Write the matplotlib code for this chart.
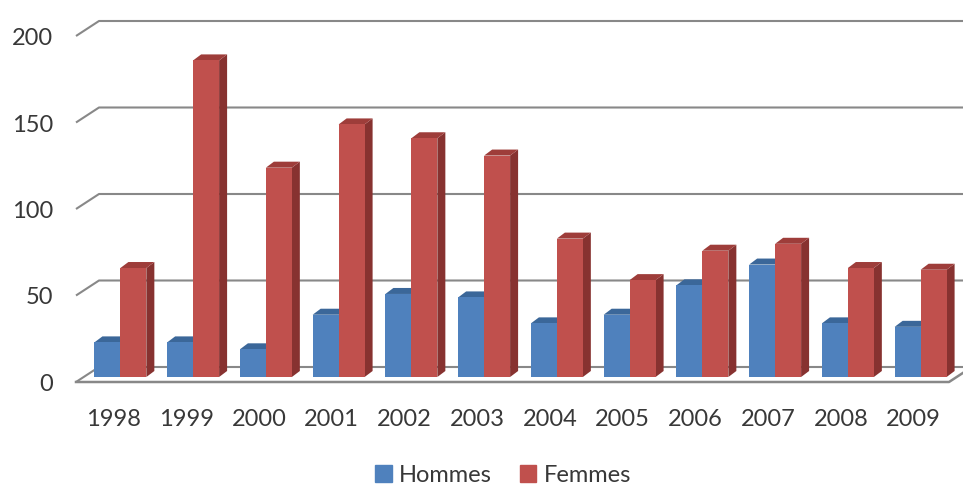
import numpy as np
import matplotlib
matplotlib.use("Agg")
import matplotlib.pyplot as plt
from matplotlib.patches import Polygon, Patch
from matplotlib.transforms import ScaledTranslation

plt.rcParams['font.family'] = ['Lato', 'DejaVu Sans']

# Data
years = ['1998', '1999', '2000', '2001', '2002', '2003',
         '2004', '2005', '2006', '2007', '2008', '2009']
hommes = [20, 20, 16, 36, 48, 46, 31, 36, 53, 65, 31, 29]
femmes = [63, 183, 121, 146, 138, 128, 80, 56, 73, 77, 63, 62]
yticks = [0, 50, 100, 150, 200]

# colours (front, top, side)
blue = ('#4F81BD', '#3B6799', '#36608E')
red = ('#C0504D', '#9E3D3A', '#873230')
grid_col = '#888888'
text_col = '#383838'

W, H = 963, 486
fig = plt.figure(figsize=(W / 100, H / 100), dpi=100)
ax = fig.add_axes([84 / W, 109 / H, (957 - 84) / W, (377 - 31) / H])
ax.set_xlim(-0.5, len(years) - 0.5)
ax.set_ylim(0, 200)
for s in ax.spines.values():
    s.set_visible(False)

fig.canvas.draw()


# shift a data point by some pixels (used for the fake 3D depth)
def shift(x, y, dx, dy):
    p = ax.transData.transform((x, y))
    return ax.transData.inverted().transform((p[0] + dx, p[1] + dy))


back = (15, 10)     # back wall offset, pixels
front = (-8, -5)    # front edge offset, pixels
depth = (8, 6)      # bar depth, pixels
x0, x1 = -0.5, len(years) - 0.5

# gridlines on back wall + left side wall
for v in yticks:
    a = shift(x0, v, *front)
    b = shift(x0, v, *back)
    c = shift(x1 + 0.3, v, *back)
    ax.plot([a[0], b[0], c[0]], [a[1], b[1], c[1]], color=grid_col,
            lw=1.5, zorder=1, clip_on=False, solid_capstyle='butt')

# floor
fl = shift(x0, 0, *front)
fr = shift(x1, 0, *front)
br = shift(x1, 0, *back)
ax.plot([fl[0], fr[0], br[0]], [fl[1], fr[1], br[1]], color=grid_col,
        lw=1.8, zorder=1, clip_on=False)

# bars
w = 0.357
x = np.arange(len(years))


def bar3d(xc, val, cols, z):
    left, right = xc - w / 2, xc + w / 2
    ax.bar(xc, val, width=w, color=cols[0], zorder=z + 0.2, linewidth=0)
    tl = shift(left, val, *depth)
    tr = shift(right, val, *depth)
    br_ = shift(right, 0, *depth)
    top = Polygon([(left, val), (right, val), tr, tl], closed=True,
                  facecolor=cols[1], edgecolor='none', zorder=z + 0.1)
    side = Polygon([(right, val), tr, br_, (right, 0)], closed=True,
                   facecolor=cols[2], edgecolor='none', zorder=z)
    ax.add_patch(top)
    ax.add_patch(side)


for i in range(len(years)):
    bar3d(x[i] - w / 2, hommes[i], blue, 2 + i)
    bar3d(x[i] + w / 2, femmes[i], red, 2.5 + i)

# tick labels
ax.set_xticks(x)
ax.set_xticklabels(years, fontsize=17, color=text_col)
ax.set_yticks(yticks)
ax.set_yticklabels([str(v) for v in yticks], fontsize=17, color=text_col)
ax.tick_params(axis='x', length=0, pad=23)
ax.tick_params(axis='y', length=0, pad=22)
for lab in ax.get_xticklabels():
    lab.set_transform(lab.get_transform() + ScaledTranslation(-0.07, 0, fig.dpi_scale_trans))
for lab in ax.get_yticklabels():
    lab.set_transform(lab.get_transform() + ScaledTranslation(0, -0.055, fig.dpi_scale_trans))

# legend
handles = [Patch(color=blue[0], label='Hommes'), Patch(color=red[0], label='Femmes')]
leg = fig.legend(handles=handles, loc='center', bbox_to_anchor=(503 / W, 11 / H),
                 ncol=2, frameon=False, fontsize=17, handlelength=0.7,
                 handleheight=0.7, handletextpad=0.3, columnspacing=1.2)
for t in leg.get_texts():
    t.set_color(text_col)

fig.savefig('out.png', dpi=100)
